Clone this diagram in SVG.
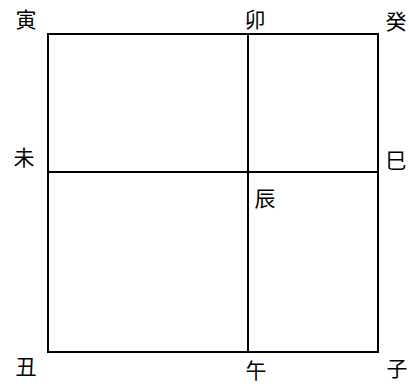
<svg xmlns="http://www.w3.org/2000/svg" width="409" height="390" viewBox="0 0 409 390">
<style>
.l{stroke:#000;stroke-width:2;fill:none}
text{font-family:"Noto Sans CJK SC","Noto Sans CJK JP",sans-serif;font-size:21px;fill:#000;text-anchor:middle}
</style>
<rect width="409" height="390" fill="#fff"/>
<g id="connectors">
<rect class="l" x="48" y="34" width="330" height="318"/>
<line class="l" x1="248" y1="34" x2="248" y2="352"/>
<line class="l" x1="48" y1="172" x2="378" y2="172"/>
</g>
<g id="n-yin"><text x="26" y="27">寅</text></g>
<g id="n-mao"><text x="255" y="27">卯</text></g>
<g id="n-gui"><text x="396" y="29">癸</text></g>
<g id="n-wei"><text x="24" y="165">未</text></g>
<g id="n-si"><text x="396" y="168">巳</text></g>
<g id="n-chen"><text x="265" y="206">辰</text></g>
<g id="n-chou"><text x="26" y="374">丑</text></g>
<g id="n-wu"><text x="256" y="378">午</text></g>
<g id="n-zi"><text x="397" y="376">子</text></g>
</svg>
